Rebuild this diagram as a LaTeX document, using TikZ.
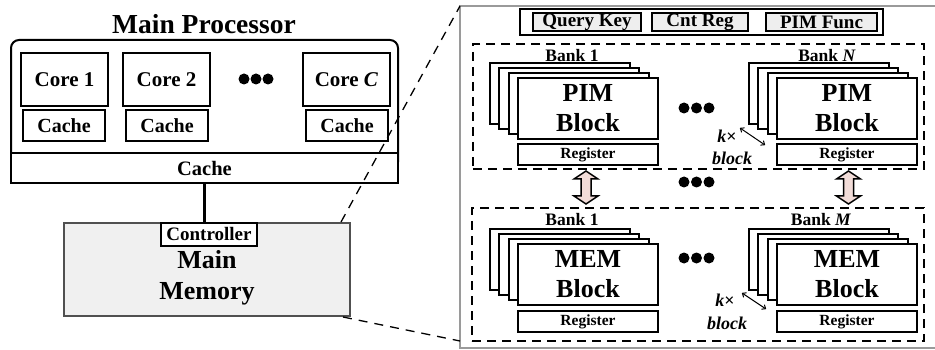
\documentclass[tikz,border=0pt]{standalone}
\usepackage{fontspec}
\setmainfont{Liberation Serif}
\usetikzlibrary{arrows.meta,calc}
\definecolor{panelgray}{HTML}{9A9A9A}
\definecolor{memfill}{HTML}{F0F0F0}
\definecolor{memedge}{HTML}{505050}
\definecolor{keyfill}{HTML}{EEEEEE}
\definecolor{pinkfill}{HTML}{F2DCD8}
\newcommand{\bsz}[1]{\fontsize{#1}{#1}\selectfont\bfseries}
% a stack of four blocks: back layers first, front block last
\newcommand{\blockstack}[4]{%
  \foreach \k in {3,2,1}{
    \node[blockbox] (#1-\k) at ($(#2,#3)+(-9.5*\k,-5*\k)$) {};
  }
  \node[blockbox, align=center, font={\fontsize{26}{30}\selectfont\bfseries}] (#1) at (#2,#3) {#4};
}
\begin{document}
\begin{tikzpicture}[x=1pt,y=-1pt,
  corebox/.style={draw, line width=2.4pt, fill=white, inner sep=0pt,
    minimum width=87pt, minimum height=53pt, font=\bsz{21}},
  cachebox/.style={draw, line width=2.2pt, fill=white, inner sep=0pt,
    minimum width=82pt, minimum height=31pt, font=\bsz{20}},
  blockbox/.style={draw, line width=2pt, fill=white, inner sep=0pt,
    minimum width=140pt, minimum height=61pt},
  regbox/.style={draw, line width=2pt, fill=white, inner sep=0pt,
    minimum width=140pt, minimum height=21pt, font=\bsz{15.5}},
  fieldbox/.style={draw, line width=1.5pt, fill=keyfill, inner sep=0pt,
    minimum height=18pt, font=\bsz{19}},
  bankframe/.style={draw, line width=1.5pt, dash pattern=on 9pt off 6pt,
    inner sep=0pt},
  bigdot/.style={circle, fill=black, inner sep=0pt, minimum size=11pt},
  banklabel/.style={inner sep=0pt, font=\bsz{17.5}},
  klabel/.style={inner sep=0pt, font={\bsz{18}\itshape}},
  kdim/.style={{To[length=4pt,width=6pt]}-{To[length=4pt,width=6pt]}, line width=1pt},
  zoomline/.style={line width=1.3pt, dash pattern=on 9pt off 7pt},
  linkarrow/.style={draw, line width=1.5pt, fill=pinkfill, line join=miter}
]
\useasboundingbox (0,0) rectangle (935,350);

% ---------- main processor ----------
\node[inner sep=0pt, font=\bsz{27.5}] (mptitle) at (204,24) {Main Processor};
\node[draw, line width=2pt, rounded corners=8pt, inner sep=0pt,
  minimum width=387pt, minimum height=130pt] (proc) at (204.5,105) {};

\node[corebox] (core1) at (64.5,79.5) {Core 1};
\node[corebox] (core2) at (166.5,79.5) {Core 2};
\node[corebox] (coreC) at (346.5,79.5) {Core \textit{C}};
\node[cachebox] (cache1) at (64,125.5) {Cache};
\node[cachebox] (cache2) at (167,125.5) {Cache};
\node[cachebox] (cacheC) at (347,125.5) {Cache};
\node[bigdot] (pd1) at (244,79) {};
\node[bigdot] (pd2) at (256,79) {};
\node[bigdot] (pd3) at (268,79) {};

\node[draw, line width=2.4pt, fill=white, inner sep=0pt,
  minimum width=387pt, minimum height=30pt, font=\bsz{20.5}] (llc) at (204.5,168) {Cache};

% ---------- main memory ----------
\node[draw=memedge, line width=2pt, fill=memfill, inner sep=0pt,
  minimum width=286pt, minimum height=93pt] (mm) at (207,269.5) {};
\node[draw, line width=1.5pt, fill=white, inner sep=0pt,
  minimum width=96pt, minimum height=23pt, font=\bsz{19}] (ctrl) at (209,234.5) {Controller};
\node[inner sep=0pt, align=center, font={\fontsize{26}{31}\selectfont\bfseries}] (mmtext) at (207,278) {Main\\Memory};
\draw[line width=2.4pt] (llc.south) -- (llc.south |- ctrl.north);

% ---------- zoomed-in memory panel ----------
\coordinate (pnw) at (460,6);
\coordinate (pend) at (460,341);
\draw[panelgray, line width=1.6pt] (940,6) -- (pnw) -- (460,348) -- (940,348);
\draw[zoomline] ($(mm.north east)+(-10,0)$) -- (pnw);
\draw[zoomline] ($(mm.south east)+(-8,0)$) -- (pend);

\node[draw, line width=1.5pt, fill=white, inner sep=0pt,
  minimum width=363pt, minimum height=26pt] (fields) at (701.5,22) {};
\node[fieldbox, minimum width=108pt] (qkey) at (587,22) {Query Key};
\node[fieldbox, minimum width=96pt] (cntreg) at (700,22) {Cnt Reg};
\node[fieldbox, minimum width=111pt] (pimfunc) at (821.5,22) {PIM Func};

\node[bankframe, minimum width=451pt, minimum height=125pt] (pimbanks) at (698.5,106.5) {};
\node[bankframe, minimum width=452pt, minimum height=133pt] (membanks) at (698,274.5) {};

% PIM banks
\node[banklabel] (pbl1) at (572,55.5) {Bank 1};
\node[banklabel] (pblN) at (827,55.5) {Bank \textit{N}};
\blockstack{pimA}{588}{108.5}{PIM\\Block}
\blockstack{pimB}{847}{108.5}{PIM\\Block}
\node[regbox] (pregA) at (588,154.5) {Register};
\node[regbox] (pregB) at (847,154.5) {Register};
\node[bigdot] (qd1) at (684,108) {};
\node[bigdot] (qd2) at (696.5,108) {};
\node[bigdot] (qd3) at (709,108) {};
\node[klabel] (pk) at (727,136) {k\textup{×}};
\node[klabel] (pkb) at (732,158) {block};
\coordinate (pka) at (740,128);
\coordinate (pkb2) at (765,145);
\draw[kdim] (pka) -- (pkb2);

% links between the two rows of banks
\coordinate (lk1) at (586,187.5);
\coordinate (lk2) at (848.5,187.5);
\foreach \c in {lk1,lk2}{
  \draw[linkarrow] (\c) ++(0,-16.5) -- ++(12,8) -- ++(-7,0) -- ++(0,17) -- ++(7,0)
    -- ++(-12,8) -- ++(-12,-8) -- ++(7,0) -- ++(0,-17) -- ++(-7,0) -- cycle;
}
\node[bigdot] (md1) at (684,182) {};
\node[bigdot] (md2) at (696.5,182) {};
\node[bigdot] (md3) at (709,182) {};

% memory banks
\node[banklabel] (mbl1) at (572,220) {Bank 1};
\node[banklabel] (mblM) at (821,220) {Bank \textit{M}};
\blockstack{memA}{588}{274.5}{MEM\\Block}
\blockstack{memB}{847}{274.5}{MEM\\Block}
\node[regbox] (mregA) at (588,321.5) {Register};
\node[regbox] (mregB) at (847,321.5) {Register};
\node[bigdot] (ld1) at (684,258) {};
\node[bigdot] (ld2) at (696.5,258) {};
\node[bigdot] (ld3) at (709,258) {};
\node[klabel] (mk) at (725,300) {k\textup{×}};
\node[klabel] (mkb) at (727,323) {block};
\coordinate (mka) at (742,293);
\coordinate (mkb2) at (766,309);
\draw[kdim] (mka) -- (mkb2);
\end{tikzpicture}
\end{document}
